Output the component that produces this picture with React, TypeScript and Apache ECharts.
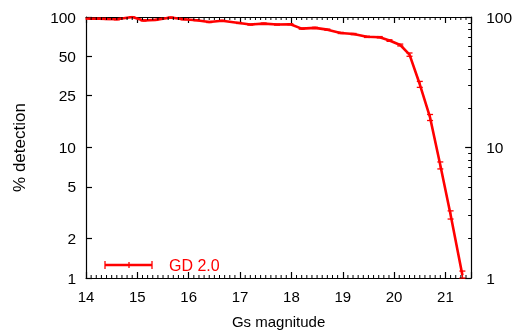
import React, { useEffect, useRef } from "react";
import * as echarts from "echarts";

const magnitudes = [14.05, 14.25, 14.42, 14.6, 14.9, 15.12, 15.35, 15.65, 15.9, 16.15, 16.4, 16.65, 16.98, 17.2, 17.46, 17.72, 17.98, 18.2, 18.46, 18.7, 18.96, 19.21, 19.47, 19.72, 19.91, 20.12, 20.3, 20.5, 20.7, 20.9, 21.1, 21.33];
const detection = [97, 97, 96.5, 96, 100, 94, 95, 99, 96, 94.5, 91.5, 93.5, 90, 87.5, 89, 87.5, 88, 81.5, 82.5, 80, 75.5, 74, 70.5, 70, 66, 61, 51.5, 30.5, 17, 7.3, 3.05, 1.05];
const errors = [0.8, 0.8, 0.8, 0.8, 0.8, 0.8, 0.8, 0.8, 0.8, 0.8, 0.8, 0.8, 0.8, 0.8, 0.8, 0.8, 0.8, 0.8, 0.8, 0.8, 0.8, 0.8, 0.8, 0.8, 0.9, 1.0, 1.5, 1.6, 0.9, 0.45, 0.22, 0.08];
const xTicks = [14, 15, 16, 17, 18, 19, 20, 21];
const xMinorSteps = [0.1, 0.2, 0.3, 0.4, 0.5, 0.6, 0.7, 0.8, 0.9];
const leftTicks = [1, 2, 5, 10, 25, 50, 100];
const rightMajor = [1, 10, 100];
const rightMinor = [2, 3, 4, 5, 6, 7, 8, 9, 20, 30, 40, 50, 60, 70, 80, 90];
const seriesName = "GD 2.0";

const FONT = "'Liberation Sans', Arial, sans-serif";
const RED = "#ff0000";

export default function App() {
  const ref = useRef<HTMLDivElement>(null);
  useEffect(() => {
    const chart = echarts.init(ref.current!, null, { renderer: "svg" });
    const lineData = magnitudes.map((m, i) => [m, detection[i]]);
    const errData = magnitudes.map((m, i) => [m, Math.max(1, detection[i] - errors[i]), Math.min(100, detection[i] + errors[i])]);
    const xMinorTicks: number[][] = [];
    xTicks.forEach((t) => xMinorSteps.forEach((s) => {
      const v = Math.round((t + s) * 10) / 10;
      if (v < 21.5) xMinorTicks.push([v, 10]);
    }));
    const baseX = {
      type: "value",
      min: 14,
      max: 21.5,
      interval: 1,
      axisLine: { show: true, onZero: false, lineStyle: { color: "#000", width: 1.2 } },
      axisTick: { show: true, inside: true, length: 6, lineStyle: { color: "#000", width: 1.2 } },
      splitLine: { show: false },
    };
    const baseY = {
      type: "log",
      logBase: 10,
      min: 1,
      max: 100,
      splitLine: { show: false },
    };
    chart.setOption({
      animation: false,
      grid: { left: 86, top: 17, right: 43, bottom: 56 },
      xAxis: [
        {
          ...baseX,
          position: "bottom",
          name: "Gs magnitude",
          nameLocation: "middle",
          nameGap: 36,
          nameTextStyle: { fontFamily: FONT, fontSize: 15, color: "#000" },
          axisLabel: { show: true, customValues: xTicks, margin: 11, fontFamily: FONT, fontSize: 15, color: "#000" },
        },
        { ...baseX, position: "top", axisLabel: { show: false } },
      ],
      yAxis: [
        {
          ...baseY,
          position: "left",
          name: "% detection",
          nameLocation: "middle",
          nameGap: 58,
          nameTextStyle: { fontFamily: FONT, fontSize: 17, color: "#000" },
          axisLine: { show: true, lineStyle: { color: "#000", width: 1.2 } },
          axisTick: { show: true, inside: true, length: 6, customValues: leftTicks, lineStyle: { color: "#000", width: 1.2 } },
          axisLabel: { show: true, customValues: leftTicks, margin: 10, fontFamily: FONT, fontSize: 15.5, color: "#000" },
        },
        {
          ...baseY,
          position: "right",
          axisLine: { show: true, lineStyle: { color: "#000", width: 1.2 } },
          axisTick: { show: true, inside: true, length: 6, customValues: rightMajor, lineStyle: { color: "#000", width: 1.2 } },
          axisLabel: { show: true, customValues: rightMajor, margin: 15, fontFamily: FONT, fontSize: 15.5, color: "#000" },
        },
        {
          ...baseY,
          position: "right",
          axisLine: { show: false },
          axisTick: { show: true, inside: true, length: 3, customValues: rightMinor, lineStyle: { color: "#000", width: 1 } },
          axisLabel: { show: false },
        },
      ],
      series: [
        {
          name: seriesName,
          type: "line",
          data: lineData,
          xAxisIndex: 0,
          yAxisIndex: 0,
          symbol: "none",
          lineStyle: { color: RED, width: 2.6 },
          z: 3,
        },
        {
          type: "custom",
          xAxisIndex: 0,
          yAxisIndex: 0,
          data: errData,
          z: 4,
          renderItem: (params: any, api: any) => {
            const x = api.value(0);
            const lo = api.coord([x, api.value(1)]);
            const hi = api.coord([x, api.value(2)]);
            const w = 3;
            const style = { stroke: RED, lineWidth: 1.3 };
            return {
              type: "group",
              children: [
                { type: "line", shape: { x1: lo[0], y1: lo[1], x2: hi[0], y2: hi[1] }, style },
                { type: "line", shape: { x1: lo[0] - w, y1: lo[1], x2: lo[0] + w, y2: lo[1] }, style },
                { type: "line", shape: { x1: hi[0] - w, y1: hi[1], x2: hi[0] + w, y2: hi[1] }, style },
              ],
            };
          },
        },
        {
          type: "custom",
          xAxisIndex: 0,
          yAxisIndex: 0,
          data: xMinorTicks,
          clip: false,
          silent: true,
          z: 5,
          renderItem: (params: any, api: any) => {
            const px = api.coord([api.value(0), api.value(1)])[0];
            const cs = params.coordSys;
            const top = cs.y;
            const bottom = cs.y + cs.height;
            const style = { stroke: "#000", lineWidth: 1 };
            return {
              type: "group",
              children: [
                { type: "line", shape: { x1: px, y1: bottom, x2: px, y2: bottom - 3 }, style },
                { type: "line", shape: { x1: px, y1: top, x2: px, y2: top + 3 }, style },
              ],
            };
          },
        },
      ],
      graphic: [
        { type: "line", shape: { x1: 105, y1: 265, x2: 152, y2: 265 }, style: { stroke: RED, lineWidth: 2.6 } },
        { type: "line", shape: { x1: 105, y1: 261, x2: 105, y2: 269 }, style: { stroke: RED, lineWidth: 1.3 } },
        { type: "line", shape: { x1: 152, y1: 261, x2: 152, y2: 269 }, style: { stroke: RED, lineWidth: 1.3 } },
        { type: "line", shape: { x1: 129, y1: 262, x2: 129, y2: 268 }, style: { stroke: RED, lineWidth: 1.3 } },
        {
          type: "text",
          x: 169,
          y: 265,
          style: { text: seriesName, fill: RED, font: `16px ${FONT}`, textVerticalAlign: "middle", verticalAlign: "middle" },
        },
      ],
    });
    return () => chart.dispose();
  }, []);
  return <div ref={ref} style={{ position: "fixed", left: 0, top: 0, width: 515, height: 334 }} />;
}
